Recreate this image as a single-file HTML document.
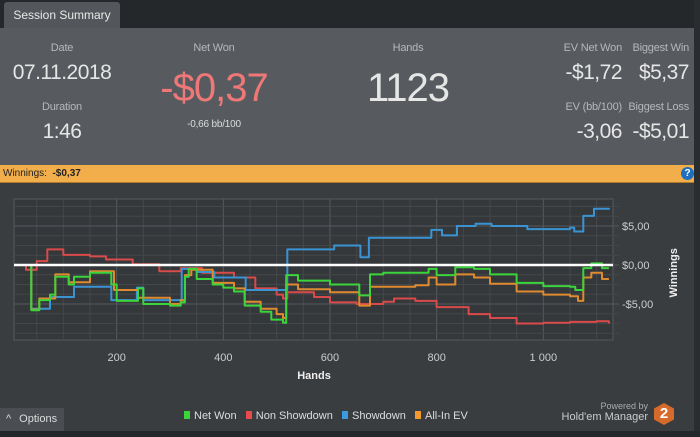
<!DOCTYPE html>
<html><head><meta charset="utf-8">
<style>
body{margin:0;width:700px;height:437px;overflow:hidden;background:#3a3d40;font-family:"Liberation Sans",sans-serif;position:relative}
.abs{position:absolute}
.lbl{color:#b5b8bb;font-size:11px;text-align:center;letter-spacing:-0.2px}
.big{color:#e6e6e6;font-size:21px;text-align:center;letter-spacing:-0.5px}
</style></head><body>
<div class="abs" style="left:0;top:0;width:700px;height:28px;background:#25282b"></div>
<div class="abs" style="left:4px;top:2px;width:116px;height:26px;background:#53575b;border-radius:3px 3px 0 0;color:#e8e8e8;font-size:12px;line-height:26px;text-align:center">Session Summary</div>
<div class="abs" style="left:0;top:28px;width:694px;height:137px;background:#575b5f"></div>
<div class="abs" style="left:694px;top:0;width:6px;height:437px;background:#2a2d30"></div>
<div class="abs lbl" style="left:22px;top:42px;width:80px">Date</div>
<div class="abs big" style="left:2px;top:61px;width:120px">07.11.2018</div>
<div class="abs lbl" style="left:22px;top:101px;width:80px">Duration</div>
<div class="abs big" style="left:22px;top:120px;width:80px">1:46</div>
<div class="abs lbl" style="left:174px;top:42px;width:80px">Net Won</div>
<div class="abs" style="left:134px;top:66px;width:160px;text-align:center;color:#ee7777;font-size:40px;letter-spacing:-1px">-$0,37</div>
<div class="abs lbl" style="left:164px;top:119px;width:100px;font-size:10px;color:#dcdcdc">-0,66 bb/100</div>
<div class="abs lbl" style="left:368px;top:42px;width:80px">Hands</div>
<div class="abs" style="left:348px;top:66px;width:120px;text-align:center;color:#e6e6e6;font-size:40px;letter-spacing:-1px">1123</div>
<div class="abs lbl" style="left:540px;top:42px;width:82px;text-align:right">EV Net Won</div>
<div class="abs big" style="left:540px;top:61px;width:82px;text-align:right">-$1,72</div>
<div class="abs lbl" style="left:620px;top:42px;width:69px;text-align:right">Biggest Win</div>
<div class="abs big" style="left:610px;top:61px;width:79px;text-align:right">$5,37</div>
<div class="abs lbl" style="left:540px;top:101px;width:82px;text-align:right">EV (bb/100)</div>
<div class="abs big" style="left:540px;top:120px;width:82px;text-align:right">-3,06</div>
<div class="abs lbl" style="left:620px;top:101px;width:69px;text-align:right">Biggest Loss</div>
<div class="abs big" style="left:610px;top:120px;width:79px;text-align:right">-$5,01</div>
<div class="abs" style="left:0;top:165px;width:694px;height:17px;background:#f2ae4a;border-bottom:1px solid #b07a2a;font-size:10px;line-height:17px;color:#222"><span style="padding-left:3px">Winnings: &nbsp;<b>-$0,37</b></span></div>
<div class="abs" style="left:681px;top:167px;width:13px;height:13px;border-radius:50%;background:#1f6fc0;color:#fff;font-size:10px;font-weight:bold;line-height:13px;text-align:center">?</div>
<svg class="abs" style="left:0;top:183px" width="694" height="225" id="chart"></svg>
<div class="abs" style="left:0;top:408px;width:64px;height:23px;background:#4a4e52;color:#ddd;font-size:11px;line-height:23px"><span style="padding:0 8px 0 6px">^</span>Options</div>
<div class="abs" style="left:184px;top:410px;font-size:11px;color:#ddd;white-space:nowrap">
<span><span style="display:inline-block;width:6px;height:8px;background:#3bd43b;margin-right:4px"></span>Net Won</span>&nbsp;&nbsp;
<span><span style="display:inline-block;width:6px;height:8px;background:#e84b4b;margin-right:4px"></span>Non Showdown</span>&nbsp;&nbsp;
<span><span style="display:inline-block;width:6px;height:8px;background:#3a9be0;margin-right:4px"></span>Showdown</span>&nbsp;&nbsp;
<span><span style="display:inline-block;width:6px;height:8px;background:#f29a2e;margin-right:4px"></span>All-In EV</span></div>
<div class="abs" style="left:560px;top:401px;width:88px;text-align:right;color:#aaa;font-size:9px">Powered by</div>
<div class="abs" style="left:540px;top:411px;width:108px;text-align:right;color:#ccc;font-size:11px">Hold'em Manager</div>
<div class="abs" style="left:654px;top:403px;width:20px;height:22px;background:#d66a2a;clip-path:polygon(50% 0,100% 25%,100% 75%,50% 100%,0 75%,0 25%);color:#fff;font-weight:bold;font-size:15px;text-align:center;line-height:22px">2</div>
<div class="abs" style="left:0;top:431px;width:700px;height:6px;background:#24272a"></div>
<script>
const handTicks=[200,400,600,800,1000];
const handTickLabels=["200","400","600","800","1 000"];
const valTicks=[5,0,-5];
const valTickLabels=["$5,00","$0,00","-$5,00"];
const netWonHands=[20,40,55,75,85,110,120,150,175,190,200,240,250,300,320,328,335,350,380,400,420,440,470,490,512,518,540,600,655,670,675,700,760,785,800,835,870,900,950,1000,1050,1060,1075,1090,1110,1123];
const netWonVals=[0,-5.8,-4.5,-3.8,-1.5,-2.5,-1.5,-1.0,-1.0,-2.5,-4.6,-3.0,-5.0,-5.2,-4.8,-1.5,-0.5,-1.8,-2.5,-2.9,-3.4,-5.2,-6.0,-7.0,-7.4,-1.3,-2.0,-2.5,-3.9,-3.9,-1.2,-1.0,-1.0,-0.5,-1.3,-0.3,-0.5,-1.2,-2.3,-2.7,-2.8,-3.2,-0.4,0.2,-0.4,-0.4];
const allInHands=[20,40,55,85,110,150,175,195,240,300,320,328,340,380,420,440,470,500,512,518,540,600,655,672,675,760,785,800,835,870,900,950,1000,1050,1065,1075,1090,1110,1123];
const allInVals=[0,-5.7,-4.3,-1.2,-2.2,-0.8,-0.8,-3.2,-4.2,-5.0,-4.5,-1.3,-0.6,-2.3,-3.0,-4.7,-5.6,-6.3,-6.8,-2.5,-3.1,-3.5,-5.2,-5.2,-2.8,-2.6,-1.6,-2.5,-1.2,-1.6,-2.4,-3.4,-3.8,-4.0,-4.6,-1.6,-1.0,-1.8,-1.8];
const nonSdHands=[20,30,50,70,100,150,180,230,280,320,360,420,460,500,512,520,570,600,650,700,720,760,800,860,900,950,1000,1050,1100,1123];
const nonSdVals=[0,-0.6,0.5,2.0,1.3,1.1,0.7,0.1,-0.8,-0.4,-1.0,-1.6,-3.0,-3.8,-4.3,-3.5,-4.1,-4.8,-5.0,-4.7,-4.3,-4.6,-5.4,-6.3,-6.8,-7.5,-7.4,-7.3,-7.2,-7.5];
const sdHands=[20,40,75,120,190,238,250,322,350,383,442,520,608,657,673,790,810,838,873,903,970,1050,1058,1075,1095,1123];
const sdVals=[0,-5.6,-4.1,-2.8,-4.5,-2.9,-4.5,-0.5,-0.9,-1.6,-3.2,2.0,2.5,1.0,3.5,4.5,3.8,5.0,5.3,5.0,4.6,4.8,4.3,6.3,7.2,7.1];

const svg=document.getElementById('chart');
const NS='http://www.w3.org/2000/svg';
const OY=183;
const X=h=>10+h*0.5333;
const Y=v=>265-OY-v*7.8;
const L=14,R=613,T=199-OY,B=340-OY;
function mk(t,a){const e=document.createElementNS(NS,t);for(const k in a)e.setAttribute(k,a[k]);svg.appendChild(e);return e;}
const bg=mk('rect',{x:L,y:T,width:R-L,height:B-T,fill:'#35383b',stroke:'#55595d'});


for(let h=50;h<1140;h+=50){if(X(h)>L&&X(h)<R){const g=mk('line',{x1:X(h),x2:X(h),y1:T,y2:B,stroke:h%200===0?'#55595d':'#44474a'});}}
for(let v=-10;v<=10;v+=1.25){if(Y(v)>T&&Y(v)<B){const g=mk('line',{x1:L,x2:R+6,y1:Y(v),y2:Y(v),stroke:v%5===0?'#55595d':'#44474a'});}}
handTicks.forEach((h,i)=>{const t=mk('text',{x:X(h),y:B+21,fill:'#ccc','font-size':11,'text-anchor':'middle'});t.textContent=handTickLabels[i];

});
valTicks.forEach((v,i)=>{const t=mk('text',{x:622,y:Y(v)+4,fill:'#ccc','font-size':11});t.textContent=valTickLabels[i];

});
const xt=mk('text',{x:314,y:B+39,fill:'#eee','font-size':11,'font-weight':'bold','text-anchor':'middle'});xt.textContent='Hands';


const yt=mk('text',{x:0,y:0,fill:'#eee','font-size':11,'font-weight':'bold','text-anchor':'middle',transform:`translate(677,${Y(-1)}) rotate(-90)`});yt.textContent='Winnings';


function series(hs,vs,col,name){let d='';hs.forEach((h,i)=>{if(i===0){d+='M'+X(h).toFixed(1)+','+Y(vs[i]).toFixed(1);}else{d+='H'+X(h).toFixed(1)+'V'+Y(vs[i]).toFixed(1);}});
const p=mk('path',{d,fill:'none',stroke:col,'stroke-width':2,'stroke-linejoin':'round'});

}
series(nonSdHands,nonSdVals,'#d94a4a','non-showdown-line');
series(sdHands,sdVals,'#3a94d4','showdown-line');
series(allInHands,allInVals,'#e08a30','all-in-ev-line');
series(netWonHands,netWonVals,'#3bd43b','net-won-line');
const z=mk('line',{x1:L,x2:R,y1:Y(0),y2:Y(0),stroke:'#fff','stroke-width':2.5});


</script>
</body></html>
